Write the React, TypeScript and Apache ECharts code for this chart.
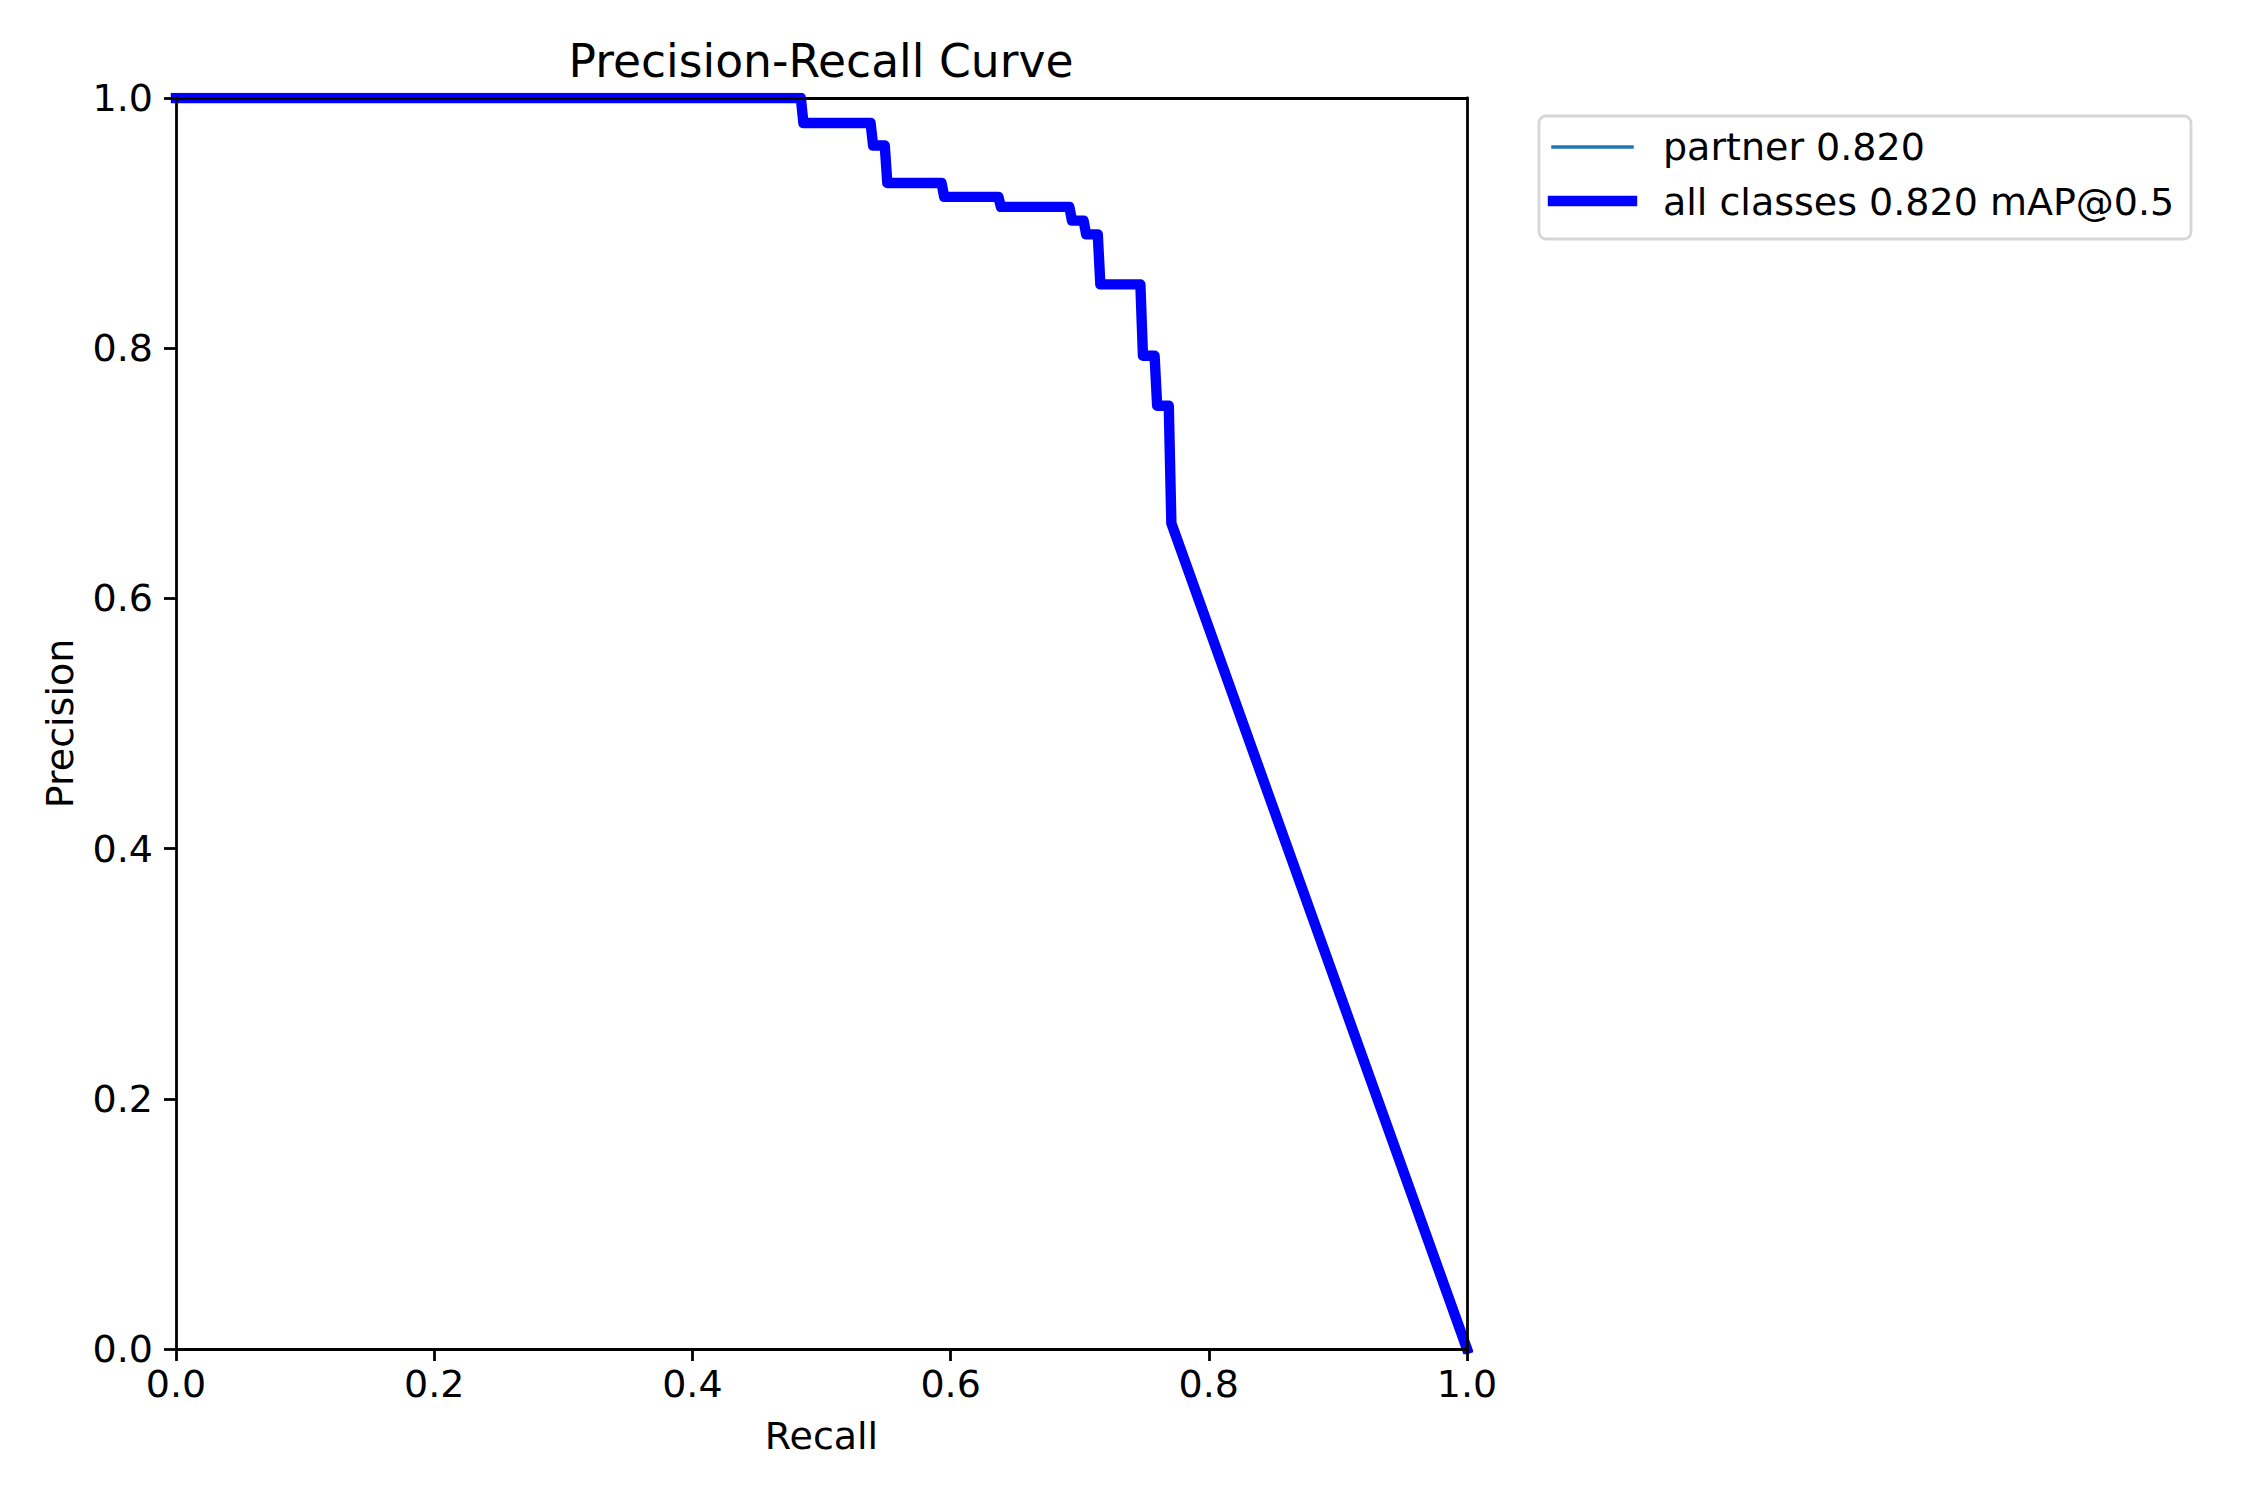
import React, { useEffect, useRef } from "react";
import * as echarts from "echarts";

const recall: number[] = [
  0, 0.484, 0.486, 0.538, 0.540, 0.549, 0.551, 0.593, 0.595, 0.637, 0.639,
  0.692, 0.694, 0.703, 0.705, 0.714, 0.716, 0.747, 0.749, 0.758, 0.760,
  0.769, 0.771, 1.0,
];
const allClassesPrecision: number[] = [
  1, 1, 0.980, 0.980, 0.962, 0.962, 0.932, 0.932, 0.921, 0.921, 0.913,
  0.913, 0.902, 0.902, 0.891, 0.891, 0.851, 0.851, 0.794, 0.794, 0.754,
  0.754, 0.660, 0,
];
const partnerPrecision: number[] = allClassesPrecision.slice();
const legendLabels: string[] = ["partner 0.820", "all classes 0.820 mAP@0.5"];

const FONT = "DejaVu Sans";
const F10 = 38;
const F12 = 45.6;
const SPINE = 2.8;

export default function App() {
  const ref = useRef<HTMLDivElement>(null);
  useEffect(() => {
    if (!ref.current) return;
    const chart = echarts.init(ref.current, undefined, { renderer: "svg" });
    const fmt = (v: number) => v.toFixed(1);
    const axisLine = { show: true, onZero: false, lineStyle: { color: "#000", width: SPINE } };
    const option: any = {
      animation: false,
      backgroundColor: "#fff",
      textStyle: { fontFamily: FONT },
      grid: { left: 176, top: 98, width: 1291, height: 1251, containLabel: false },
      xAxis: [
        {
          type: "value",
          min: 0,
          max: 1,
          interval: 0.2,
          position: "bottom",
          z: 5,
          axisLine,
          axisTick: { show: true, length: 12, lineStyle: { color: "#000", width: SPINE } },
          axisLabel: { formatter: fmt, fontSize: F10, color: "#000", fontFamily: FONT, margin: 16 },
          splitLine: { show: false },
          name: "Recall",
          nameLocation: "middle",
          nameGap: 68,
          nameTextStyle: { fontSize: F10, color: "#000", fontFamily: FONT },
        },
        {
          type: "value",
          min: 0,
          max: 1,
          position: "top",
          z: 5,
          axisLine,
          axisTick: { show: false },
          axisLabel: { show: false },
          splitLine: { show: false },
        },
      ],
      yAxis: [
        {
          type: "value",
          min: 0,
          max: 1,
          interval: 0.2,
          position: "left",
          z: 5,
          axisLine,
          axisTick: { show: true, length: 12, lineStyle: { color: "#000", width: SPINE } },
          axisLabel: { formatter: fmt, fontSize: F10, color: "#000", fontFamily: FONT, margin: 23 },
          splitLine: { show: false },
          name: "Precision",
          nameLocation: "middle",
          nameGap: 97,
          nameTextStyle: { fontSize: F10, color: "#000", fontFamily: FONT },
        },
        {
          type: "value",
          min: 0,
          max: 1,
          position: "right",
          z: 5,
          axisLine,
          axisTick: { show: false },
          axisLabel: { show: false },
          splitLine: { show: false },
        },
      ],
      series: [
        {
          name: legendLabels[0],
          type: "line",
          xAxisIndex: 0,
          yAxisIndex: 0,
          data: recall.map((r, i) => [r, partnerPrecision[i]]),
          showSymbol: false,
          symbol: "none",
          clip: true,
          z: 2,
          lineStyle: { color: "#1f77b4", width: 3.5, join: "round", cap: "square" },
        },
        {
          name: legendLabels[1],
          type: "line",
          xAxisIndex: 0,
          yAxisIndex: 0,
          data: recall.map((r, i) => [r, allClassesPrecision[i]]),
          showSymbol: false,
          symbol: "none",
          clip: true,
          z: 3,
          lineStyle: { color: "#0000ff", width: 10.4, join: "round", cap: "square" },
        },
      ],
      graphic: [
        {
          type: "text",
          x: 821,
          y: 61,
          style: {
            text: "Precision-Recall Curve",
            fontSize: F12,
            fontFamily: FONT,
            fill: "#000",
            textAlign: "center",
            textVerticalAlign: "middle",
          },
        },
        {
          type: "rect",
          shape: { x: 1539, y: 116, width: 652, height: 123, r: 7 },
          style: { fill: "#fff", stroke: "#d6d6d6", lineWidth: SPINE },
        },
        {
          type: "line",
          shape: { x1: 1553, y1: 147, x2: 1632, y2: 147 },
          style: { stroke: "#1f77b4", lineWidth: 3.5, lineCap: "square" },
        },
        {
          type: "line",
          shape: { x1: 1553, y1: 201, x2: 1632, y2: 201 },
          style: { stroke: "#0000ff", lineWidth: 10.4, lineCap: "square" },
        },
        {
          type: "text",
          x: 1663,
          y: 147,
          style: {
            text: legendLabels[0],
            fontSize: F10,
            fontFamily: FONT,
            fill: "#000",
            textAlign: "left",
            textVerticalAlign: "middle",
          },
        },
        {
          type: "text",
          x: 1663,
          y: 202,
          style: {
            text: legendLabels[1],
            fontSize: F10,
            fontFamily: FONT,
            fill: "#000",
            textAlign: "left",
            textVerticalAlign: "middle",
          },
        },
      ],
    };
    chart.setOption(option);
    return () => chart.dispose();
  }, []);
  return (
    <div
      ref={ref}
      style={{ position: "absolute", left: 0, top: 0, width: 2250, height: 1500, background: "#fff" }}
    />
  );
}
